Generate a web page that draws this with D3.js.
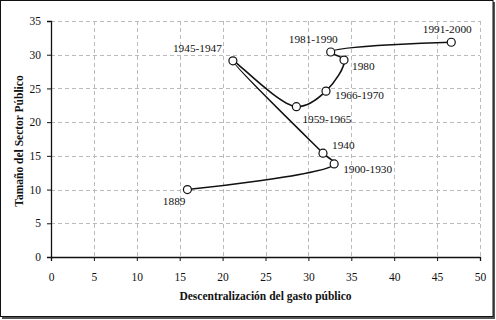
<!DOCTYPE html>
<html>
<head>
<meta charset="utf-8">
<script src="https://cdn.jsdelivr.net/npm/d3@7"></script>
<style>
	body { margin:0; background:#fff; }
	svg text { font-family:'Liberation Serif', Tinos, 'DejaVu Serif', serif; fill:#111; }
	.tick text { font-size:11.5px; }
	.axisTitle { font-size:11.5px; font-weight:bold; }
	.ptLabel { font-size:11.3px; }
</style>
</head>
<body>
<div class="chart-container"></div>
<script>
// periodos y valores
var periodos = ['1889','1900-1930','1940','1945-1947','1959-1965','1966-1970','1980','1981-1990','1991-2000'];
var descentralizacion = [15.9, 33.0, 31.7, 21.2, 28.6, 32.05, 34.15, 32.6, 46.65];
var tamano = [10.0, 13.8, 15.4, 29.1, 22.3, 24.6, 29.2, 30.4, 31.85];
var xTicks = [0,5,10,15,20,25,30,35,40,45,50];
var yTicks = [0,5,10,15,20,25,30,35];

// posicion de cada etiqueta respecto a su punto
var labelPos = [
	{anchor:'end', dx:-2, dy:15},
	{anchor:'start', dx:9, dy:9},
	{anchor:'start', dx:9, dy:-4},
	{anchor:'end', dx:-11, dy:-9},
	{anchor:'start', dx:6, dy:16},
	{anchor:'start', dx:9, dy:8},
	{anchor:'start', dx:8, dy:10},
	{anchor:'end', dx:7, dy:-9},
	{anchor:'middle', dx:-4, dy:-9}
];

var W = 496, H = 320;
var margin = {top:21, right:16, bottom:63, left:51},
	width = W - margin.left - margin.right,
	height = H - margin.top - margin.bottom;

var svg = d3.select('.chart-container').append('svg')
	.attr('width', W)
	.attr('height', H);

// marco exterior con sombra
svg.append('rect')
	.attr('x', 2).attr('y', 2)
	.attr('width', W - 3).attr('height', H - 3)
	.style('fill', '#555');
svg.append('rect')
	.attr('x', 0.5).attr('y', 0.5)
	.attr('width', W - 3.5).attr('height', H - 4)
	.style('fill', '#fff')
	.style('stroke', '#111')
	.style('stroke-width', 1);

var g = svg.append('g')
	.attr('transform', 'translate(' + margin.left + ',' + margin.top + ')');

var x = d3.scaleLinear().domain([0, 50]).range([0, width]);
var y = d3.scaleLinear().domain([0, 35]).range([height, 0]);

// rejilla
g.append('g').selectAll('line')
	.data(xTicks.filter(function(d){ return d > 0; }))
	.enter().append('line')
	.attr('x1', function(d){ return Math.round(x(d)) + 0.5; })
	.attr('x2', function(d){ return Math.round(x(d)) + 0.5; })
	.attr('y1', 0).attr('y2', height)
	.style('stroke', '#bbb').style('stroke-dasharray', '4,3');

g.append('g').selectAll('line')
	.data(yTicks.filter(function(d){ return d > 0; }))
	.enter().append('line')
	.attr('y1', function(d){ return Math.round(y(d)) + 0.5; })
	.attr('y2', function(d){ return Math.round(y(d)) + 0.5; })
	.attr('x1', 0).attr('x2', width)
	.style('stroke', '#bbb').style('stroke-dasharray', '4,3');

var xAxis = d3.axisBottom(x).tickValues(xTicks).tickSize(4).tickPadding(12).tickFormat(d3.format('d'));
var yAxis = d3.axisLeft(y).tickValues(yTicks).tickSize(4).tickPadding(6).tickFormat(d3.format('d'));

g.append('g')
	.attr('transform', 'translate(0,' + height + ')')
	.call(customAxis, xAxis);
g.append('g').call(customAxis, yAxis);

function customAxis(sel, axis) {
	sel.call(axis);
	sel.select('.domain').attr('stroke', '#111').attr('stroke-width', 1.3);
	sel.selectAll('.tick line').attr('stroke', '#111');
	sel.selectAll('.tick text').attr('fill', '#111');
	sel.attr('font-family', null).attr('font-size', null);
}

// titulos
g.append('text')
	.attr('class', 'axisTitle')
	.attr('x', width / 2)
	.attr('y', height + 43)
	.style('text-anchor', 'middle')
	.text('Descentralización del gasto público');

g.append('text')
	.attr('class', 'axisTitle')
	.attr('transform', 'translate(' + (-28) + ',' + (height / 2 + 2) + ') rotate(-90)')
	.style('text-anchor', 'middle')
	.text('Tamaño del Sector Público');

var nodes = periodos.map(function(p, i) {
	return {periodo:p, dx:descentralizacion[i], ts:tamano[i], pos:labelPos[i]};
});

var line = d3.line()
	.x(function(d){ return x(d.dx); })
	.y(function(d){ return y(d.ts); })
	.curve(d3.curveCatmullRom.alpha(0.5));

g.append('path')
	.datum(nodes)
	.attr('d', line)
	.style('fill', 'none')
	.style('stroke', '#111')
	.style('stroke-width', 1.6);

g.selectAll('.dot')
	.data(nodes)
	.enter().append('circle')
	.attr('class', 'dot')
	.attr('cx', function(d){ return x(d.dx); })
	.attr('cy', function(d){ return y(d.ts); })
	.attr('r', 4)
	.style('fill', '#fff')
	.style('stroke', '#111')
	.style('stroke-width', 1.2);

g.selectAll('.ptLabel')
	.data(nodes)
	.enter().append('text')
	.attr('class', 'ptLabel')
	.attr('x', function(d){ return x(d.dx) + d.pos.dx; })
	.attr('y', function(d){ return y(d.ts) + d.pos.dy; })
	.style('text-anchor', function(d){ return d.pos.anchor; })
	.text(function(d){ return d.periodo; });
</script>
</body>
</html>
